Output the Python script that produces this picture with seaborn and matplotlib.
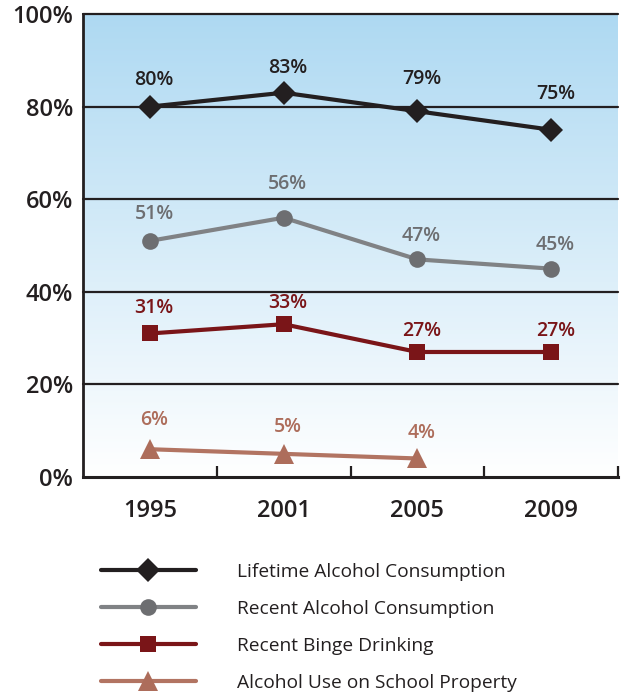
import numpy as np
import pandas as pd
import matplotlib
matplotlib.use("Agg")
import matplotlib.pyplot as plt
import seaborn as sns

# Survey years and series values (percent)
years = ["1995", "2001", "2005", "2009"]
lifetime = [80, 83, 79, 75]
recent = [51, 56, 47, 45]
binge = [31, 33, 27, 27]
school = [6, 5, 4]  # no 2009 value

series_names = [
    "Lifetime Alcohol Consumption",
    "Recent Alcohol Consumption",
    "Recent Binge Drinking",
    "Alcohol Use on School Property",
]
series_values = [lifetime, recent, binge, school]
y_ticks = [0, 20, 40, 60, 80, 100]

# Styling per series
line_colors = ["#231f20", "#808285", "#7a1518", "#b27462"]
marker_colors = ["#231f20", "#6d6e71", "#7a1518", "#ad6d5b"]
label_colors = ["#231f20", "#6d6e71", "#7a1518", "#ad6d5b"]
marker_shapes = ["D", "o", "s", "^"]
marker_sizes = [12, 12, 11, 15]
# vertical label offsets above each marker, in points
label_offsets = [
    [19, 18, 23, 26],
    [19, 24, 17, 17],
    [18, 15, 15, 15],
    [21, 19, 18],
]

sns.set_theme(style="white")
plt.rcParams["font.family"] = ["Open Sans", "DejaVu Sans"]

fig = plt.figure(figsize=(6.23, 6.92), dpi=100)
ax = fig.add_axes([83 / 623, 1 - 477 / 692, (618 - 83) / 623, (477 - 14) / 692])

# gradient background: light blue at top fading to white
top = np.array([174, 217, 242]) / 255
bot = np.array([255, 255, 255]) / 255
t = np.linspace(1, 0, 256)[:, None]
grad = (t * top + (1 - t) * bot)[:, None, :]
ax.imshow(grad, extent=[-0.5, 3.5, 0, 100], aspect="auto", zorder=0, origin="upper")

frames = []
for name, vals in zip(series_names, series_values):
    frames.append(pd.DataFrame({"pos": np.arange(len(vals)), "value": vals, "series": name}))
df = pd.concat(frames, ignore_index=True)

for i, name in enumerate(series_names):
    sub = df[df["series"] == name]
    sns.lineplot(
        data=sub, x="pos", y="value", ax=ax, color=line_colors[i],
        marker=marker_shapes[i], markersize=marker_sizes[i],
        markerfacecolor=marker_colors[i], markeredgecolor=marker_colors[i],
        markeredgewidth=0, linewidth=3.0, label=name, zorder=4,
    )
    for j, v in enumerate(series_values[i]):
        ax.annotate(f"{v}%", (j, v), xytext=(3, label_offsets[i][j]),
                    textcoords="offset points", ha="center", va="center",
                    fontsize=14, fontweight="semibold", color=label_colors[i], zorder=5)

ax.set_xlim(-0.5, 3.5)
ax.set_ylim(0, 100)

# horizontal rules
for yv in y_ticks[1:]:
    ax.axhline(yv, color="#231f20", lw=1.6, zorder=2, clip_on=False)

ax.set_yticks(y_ticks)
ax.set_yticklabels([f"{v}%" for v in y_ticks], fontsize=17, fontweight="semibold", color="#231f20")
ax.set_xticks(range(len(years)))
ax.set_xticklabels(years, fontsize=17, fontweight="semibold", color="#231f20")
ax.set_xticks([0.5, 1.5, 2.5, 3.5], minor=True)
ax.tick_params(axis="x", which="major", length=0, pad=16)
ax.tick_params(axis="x", which="minor", direction="in", length=8, width=1.6, color="#231f20", bottom=True)
ax.tick_params(axis="y", length=0, pad=7)
ax.set_xlabel("")
ax.set_ylabel("")

for side in ["right", "top"]:
    ax.spines[side].set_visible(False)
ax.spines["left"].set_color("#231f20")
ax.spines["left"].set_linewidth(2)
ax.spines["bottom"].set_color("#231f20")
ax.spines["bottom"].set_linewidth(2.2)
ax.grid(False)

handles, labels = ax.get_legend_handles_labels()
ax.get_legend().remove()
leg = fig.legend(
    handles, labels, loc="upper left", bbox_to_anchor=(93 / 623, 1 - 555 / 692),
    frameon=False, fontsize=13.8, handlelength=4.95, handletextpad=2.15,
    labelspacing=1.0, borderaxespad=0,
)
for txt in leg.get_texts():
    txt.set_color("#231f20")

fig.savefig("out.png", dpi=100)
